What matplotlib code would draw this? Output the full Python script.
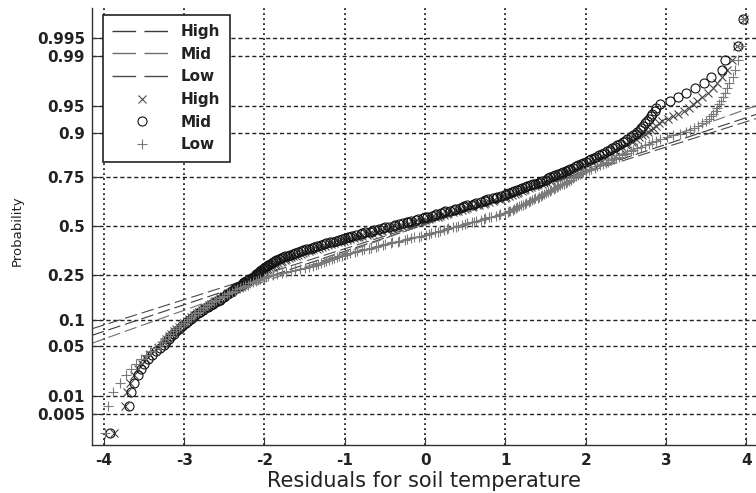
import numpy as np
import matplotlib
matplotlib.use("Agg")
import matplotlib.pyplot as plt
from matplotlib.lines import Line2D
from matplotlib.ticker import FixedLocator, FixedFormatter, NullLocator
from statistics import NormalDist

plt.rcParams['font.family'] = ['DejaVu Sans']
plt.rcParams['axes.unicode_minus'] = False
plt.rcParams['lines.scale_dashes'] = False

# ---------------- data (sorted residuals, in hundredths) ----------------
series_names = ['High', 'Mid', 'Low']

high_res = [
    -387, -374, -371, -367, -363, -358, -353, -348, -343, -338, -333, -328,
    -325, -322, -319, -316, -313, -310, -306, -303, -300, -297, -294,
    -291, -288, -284, -281, -278, -275, -272, -269, -266, -263, -260, -257,
    -255, -252, -250, -247, -245, -242, -240, -237, -235, -232,
    -230, -227, -225, -222, -220, -217, -215, -212, -210, -207,
    -206, -204, -203, -201, -199, -197, -195, -193, -191, -189,
    -187, -185, -183, -180, -178, -175, -173, -170, -167, -164, -161,
    -158, -155, -152, -149, -145, -142, -139, -135, -132, -128,
    -125, -121, -117, -113, -109, -105, -101, -97, -93, -89, -85,
    -82, -78, -72, -70, -66, -60, -58, -54, -48, -46,
    -41, -35, -33, -29, -23, -21, -15, -13, -7, -5, 0,
    5, 7, 12, 16, 18, 24, 27, 29, 35, 38, 41, 46, 50, 52, 58, 60, 65, 67,
    73, 75, 80, 84, 86, 92, 93, 99, 101,
    105, 108, 112, 114, 116, 121, 123, 125, 130, 132,
    137, 139, 141, 146, 148, 150, 155, 157, 159, 164,
    166, 168, 173, 175, 177, 182, 185, 187, 192, 193, 197,
    201, 203, 208, 210, 215, 217, 222, 224, 229, 231,
    236, 237, 243, 245, 250, 251, 257, 259,
    263, 266, 270, 274, 277, 281, 284, 288, 291, 295,
    302, 309, 315, 322, 328, 333, 338, 345, 352, 358,
    364, 370, 376, 382, 388, 397,
]

mid_res = [
    -392, -369, -366, -362, -358, -354, -350, -345, -340, -335, -330, -325,
    -322, -319, -316, -313, -310, -307, -304, -301, -298, -295, -292,
    -289, -286, -283, -280, -277, -274, -270, -267, -264, -261, -258, -255,
    -253, -251, -249, -246, -244, -242, -240, -238, -236, -234,
    -231, -229, -227, -225, -223, -221, -219, -216, -214, -212,
    -211, -210, -208, -207, -205, -204, -202, -201, -199, -197,
    -195, -193, -191, -189, -187, -185, -182, -180, -177, -174,
    -171, -168, -165, -162, -158, -155, -152, -148, -145, -141, -138,
    -134, -130, -126, -123, -119, -115, -111, -107, -103, -100, -96,
    -94, -91, -86, -80, -78, -75, -68, -66, -63, -57,
    -52, -50, -45, -39, -37, -33, -27, -23, -21, -17, -11, -9, -3, 0,
    3, 9, 12, 14, 20, 24, 25, 31, 36, 37, 43, 47, 48, 52, 58, 61, 63, 69,
    74, 75, 78, 84, 88, 90, 95, 99, 101,
    105, 108, 111, 115, 118, 121, 124, 127, 131, 134,
    137, 140, 143, 146, 150, 153, 156, 159, 162, 165,
    169, 172, 175, 178, 181, 184, 188, 191, 194, 197,
    200, 204, 207, 210, 213, 217, 220, 223, 226, 230,
    233, 236, 239, 243, 246, 249, 252, 256, 259,
    262, 264, 267, 269, 271, 274, 276, 279, 281, 283, 286, 288,
    293, 305, 315, 325, 336, 347, 356, 370, 374, 389, 396,
]

low_res = [
    -398, -395, -388, -380, -372, -366, -360, -354, -348, -342, -336, -330,
    -327, -324, -320, -317, -314, -310, -307, -304, -300, -297, -294,
    -291, -288, -286, -283, -280, -277, -274, -271, -269, -266, -263, -260,
    -257, -253, -250, -247, -244, -240, -237, -234, -231, -227,
    -224, -221, -218, -214, -211, -208, -205, -201, -198, -195,
    -189, -184, -178, -173, -167, -162, -156, -150, -145, -139,
    -136, -133, -129, -126, -123, -120, -116, -113, -110, -107, -103, -100, -97,
    -94, -87, -85, -78, -76, -70, -67, -61, -58, -52,
    -50, -43, -41, -34, -32, -25, -23, -17, -14, -8, -5, 1,
    5, 7, 12, 16, 18, 24, 27, 29, 35, 39, 41, 46, 50, 52, 58, 61, 63, 69,
    73, 75, 80, 82, 88, 92, 93, 99, 103,
    104, 106, 109, 111, 113, 115, 117, 120, 122, 124,
    126, 129, 131, 133, 135, 137, 140, 142, 144, 146,
    148, 151, 153, 155, 157, 160, 162, 164, 166, 168,
    171, 173, 175, 177, 179, 182, 184, 186, 188, 191, 193, 195, 197,
    200, 204, 207, 211, 214, 218, 221, 225, 228, 231,
    235, 238, 242, 245, 249, 252, 256, 259,
    264, 269, 274, 279, 283, 288, 293,
    301, 309, 317, 325,
    330, 335, 340, 345, 350,
    353, 356, 359, 362,
    364, 366, 369, 371, 373,
    376, 379, 383, 386, 390, 393, 396,
]

# fitted normal reference lines (mean, std) per series
line_mu = [-0.06, -0.07, -0.11]
line_sigma = [2.73, 2.54, 2.87]

prob_ticks = [0.005, 0.01, 0.05, 0.1, 0.25, 0.5, 0.75, 0.9, 0.95, 0.99, 0.995]
prob_labels = ['0.005', '0.01', '0.05', '0.1', '0.25', '0.5', '0.75',
               '0.9', '0.95', '0.99', '0.995']
x_ticks = [-4, -3, -2, -1, 0, 1, 2, 3, 4]
x_tick_labels = ['-4', '-3', '-2', '-1', '0', '1', '2', '3', '4']

# ---------------- styles ----------------
marker_styles = {
    'High': dict(marker='x', color='#4a4a4a', ms=5.5, mew=0.8),
    'Mid': dict(marker='o', color='#111111', ms=6.5, mew=0.8, mfc='none'),
    'Low': dict(marker='+', color='#7a7a7a', ms=7.5, mew=0.8),
}
line_colors = {'High': '#3a3a3a', 'Mid': '#6e6e6e', 'Low': '#4a4a4a'}

# ---------------- normal probability scale ----------------
_nd = NormalDist()
_ppf = np.vectorize(lambda p: _nd.inv_cdf(min(max(p, 1e-12), 1 - 1e-12))
                    if np.isfinite(p) else np.nan, otypes=[float])
_cdf = np.vectorize(lambda z: _nd.cdf(z) if np.isfinite(z) else np.nan,
                    otypes=[float])


def fwd(p):
    return _ppf(np.asarray(p, dtype=float))


def inv(z):
    return _cdf(np.asarray(z, dtype=float))


W, H = 756, 493
fig = plt.figure(figsize=(W / 100, H / 100), dpi=100)
ax = fig.add_axes([92 / W, 1 - 445 / H, 664 / W, 437 / H])
ax.set_yscale('function', functions=(fwd, inv))

xlim = (-4.147, 4.12)
ax.set_xlim(*xlim)
ax.set_ylim(float(inv(-3.0)), float(inv(2.99)))

data = {'High': high_res, 'Mid': mid_res, 'Low': low_res}

# reference lines (under markers)
xl = np.array(xlim)
for name, mu, sd in zip(series_names, line_mu, line_sigma):
    ax.plot(xl, inv((xl - mu) / sd), color=line_colors[name], lw=0.8,
            dashes=(9, 3.5), zorder=2)

# data points
for name in series_names:
    vals = np.sort(np.array(data[name], dtype=float) / 100.0)
    n = len(vals)
    pp = (np.arange(1, n + 1) - 0.5) / n
    st = marker_styles[name]
    ax.plot(vals, pp, ls='none', zorder=3, **st)

# axes cosmetics
ax.yaxis.set_major_locator(FixedLocator(prob_ticks))
ax.yaxis.set_major_formatter(FixedFormatter(prob_labels))
ax.yaxis.set_minor_locator(NullLocator())
ax.xaxis.set_major_locator(FixedLocator(x_ticks))
ax.xaxis.set_major_formatter(FixedFormatter(x_tick_labels))
ax.xaxis.set_minor_locator(NullLocator())

for s in ['top', 'right']:
    ax.spines[s].set_visible(False)
for s in ['left', 'bottom']:
    ax.spines[s].set_color('#333333')
    ax.spines[s].set_linewidth(1.0)

ax.tick_params(axis='both', direction='in', length=6, width=0.8,
               colors='#333333', labelcolor='#222222', labelsize=11)
ax.tick_params(axis='x', pad=6)
ax.tick_params(axis='y', pad=5)
for lab in ax.get_xticklabels() + ax.get_yticklabels():
    lab.set_fontweight('bold')

ax.yaxis.grid(True, color='#222222', lw=1.0, dashes=(3, 2))
ax.xaxis.grid(True, color='#222222', lw=1.3, dashes=(1.3, 2.3))
ax.set_axisbelow(True)

fig.text(424 / W, 6 / H, 'Residuals for soil temperature', ha='center',
         va='baseline', fontsize=15, color='#222222')
fig.text(17.5 / W, 1 - 231 / H, 'Probability', ha='center', va='center',
         rotation=90, fontsize=9.5, color='#222222')

# legend
handles = []
for name in series_names:
    handles.append(Line2D([], [], color=line_colors[name], lw=1.0,
                          dashes=(17, 6), label=name))
for name in series_names:
    st = marker_styles[name]
    handles.append(Line2D([], [], ls='none', label=name, **st))
leg = ax.legend(handles=handles, loc='upper left',
                bbox_to_anchor=(11 / 664, (445 - 15) / 437),
                borderaxespad=0, labelspacing=0.5,
                prop={'size': 11, 'weight': 'bold'},
                handlelength=3.9, handletextpad=0.6, borderpad=0.6,
                fancybox=False, framealpha=1, edgecolor='#222222')
leg.get_frame().set_linewidth(1.2)
for t in leg.get_texts():
    t.set_color('#222222')
leg.set_zorder(5)

fig.savefig('out.png', dpi=100)
